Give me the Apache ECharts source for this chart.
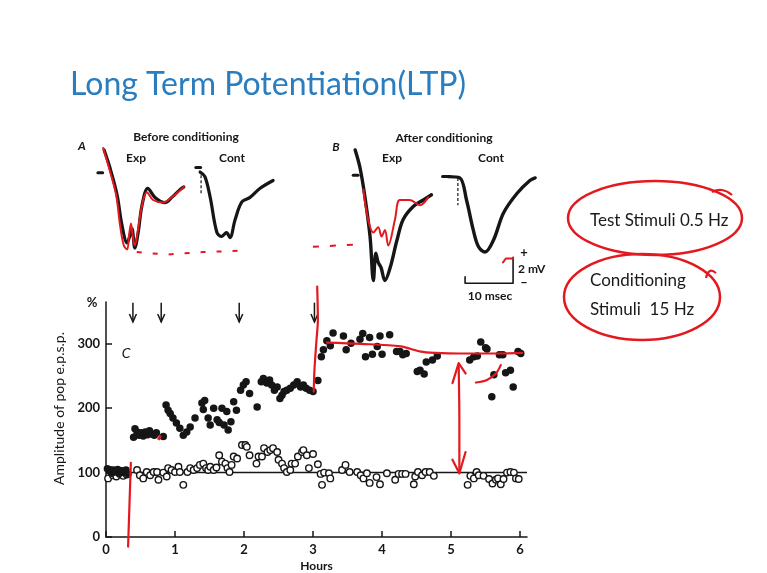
<!DOCTYPE html>
<html><head><meta charset="utf-8">
<script src="https://cdn.jsdelivr.net/npm/echarts/dist/echarts.min.js"></script>
<style>html,body{margin:0;padding:0;background:#fff}#c{width:767px;height:573px}</style>
</head><body><div id="c"></div>
<script>
// ---------- data (Hours, % amplitude) ----------
const xTicks = [0, 1, 2, 3, 4, 5, 6];
const yTicks = [0, 100, 200, 300];
const conditioningTimes = [0.39, 0.80, 1.93, 3.02];

const filledExp = [
 [0.02,106],[0.05,103],[0.08,99],[0.11,104],[0.14,101],[0.17,105],[0.20,99],[0.23,103],[0.26,100],[0.29,104],[0.32,98],
 [0.40,155],[0.42,168],[0.45,163],[0.48,158],[0.51,162],[0.54,157],[0.57,163],[0.60,159],[0.63,165],[0.66,160],[0.70,158],[0.73,162],[0.83,156],
 [0.87,205],[0.90,197],[0.93,192],[0.97,185],[1.02,177],[1.07,169],[1.12,158],[1.17,163],[1.22,171],[1.29,185],[1.39,208],[1.43,212],
 [1.41,198],[1.48,185],[1.51,174],[1.56,200],[1.61,182],[1.64,178],[1.68,200],[1.71,174],[1.75,195],[1.77,166],[1.81,179],[1.85,210],[1.89,197],
 [1.95,228],[1.99,236],[2.03,241],[2.08,223],[2.19,202],[2.25,241],[2.28,246],[2.33,239],[2.37,244],[2.40,236],[2.44,228],[2.48,233],
 [2.52,215],[2.55,220],[2.58,226],[2.62,228],[2.67,231],[2.72,236],[2.77,241],[2.82,233],[2.86,236],[2.90,231],[2.95,228],[3.00,226],
 [3.07,243],[3.12,280],[3.15,291],[3.20,305],[3.25,297],[3.29,317],[3.44,312],[3.48,291],[3.55,301],[3.68,307],[3.72,316],[3.76,280],
 [3.82,310],[3.86,284],[3.93,296],[3.97,312],[4.00,284],[4.11,314],[4.21,288],[4.26,288],[4.30,283],[4.35,285],
 [4.51,257],[4.55,259],[4.61,253],[4.64,272],[4.73,275],[4.80,281],
 [5.27,275],[5.33,280],[5.38,281],[5.43,303],[5.50,294],[5.52,292],[5.59,218],[5.62,252],[5.70,283],[5.75,283],[5.79,255],[5.86,259],[5.90,233],[5.97,288],[6.01,285]
];
const openControl = [
 [0.03,91],[0.06,104],[0.10,96],[0.15,94],[0.20,98],[0.25,95],[0.30,97],
 [0.45,104],[0.49,96],[0.54,91],[0.59,101],[0.64,96],[0.69,101],[0.74,101],[0.76,89],[0.83,100],[0.88,94],[0.90,107],[0.95,104],[1.00,101],
 [1.05,109],[1.07,101],[1.12,81],[1.18,101],[1.22,107],[1.27,104],[1.32,107],[1.36,112],[1.41,114],[1.45,107],[1.48,104],[1.51,109],[1.56,104],
 [1.60,108],[1.64,127],[1.68,117],[1.73,114],[1.76,107],[1.79,101],[1.82,112],[1.85,125],[1.90,122],[1.97,143],[2.02,143],[2.04,140],[2.08,127],
 [2.18,114],[2.21,125],[2.26,125],[2.29,138],[2.34,132],[2.38,135],[2.42,138],[2.48,132],[2.50,120],[2.55,114],[2.58,107],[2.62,101],[2.67,104],
 [2.69,114],[2.74,114],[2.78,125],[2.84,132],[2.86,135],[2.91,127],[2.94,107],[3.00,129],[3.07,113],[3.11,98],[3.13,81],[3.16,100],[3.23,99],
 [3.25,91],[3.42,104],[3.47,112],[3.53,101],[3.64,101],[3.69,96],[3.73,91],[3.78,99],[3.82,84],[3.92,93],[3.97,82],[4.07,99],[4.19,89],
 [4.24,98],[4.29,98],[4.34,98],[4.46,82],[4.48,94],[4.52,101],[4.58,96],[4.63,101],[4.69,101],[4.75,95],
 [5.24,81],[5.28,95],[5.33,91],[5.37,101],[5.40,96],[5.47,95],[5.55,90],[5.60,83],[5.65,89],[5.68,91],[5.72,82],[5.76,90],[5.81,100],
 [5.86,101],[5.91,100],[5.94,91],[5.98,90]
];
const baseline100 = [[0,100],[6.1,100]];

// red hand annotations (Hours, %)
const redStartLine = [[0.36,115],[0.34,50],[0.32,-15]];
const redStepLine = [[3.06,389],[3.07,337],[3.05,306],[3.02,259],[3.01,226]];
const redPlateau = [[3.20,302],[3.69,300],[4.27,296],[4.56,288],[4.78,286],[5.11,285],[5.69,285],[6.03,286]];
const redDoubleShaft = [[5.11,266],[5.12,180],[5.12,99]];
const redHeadTop = [[5.02,239],[5.11,270],[5.21,254]];
const redHeadBottom = [[5.02,120],[5.12,99],[5.21,132]];
const redHook = [[5.36,240],[5.52,244],[5.65,254],[5.72,267]];
const redTick = [[0.76,151],[0.79,158]];

// ---------- traces (msec, mV) ----------
const traceAExp = [[1.9,-1.15],[3.1,-2.5],[4.6,-4.6],[5.6,-6.9],[6.7,-8.3],[7.3,-7.7],[7.7,-7.2],[8.3,-8.7],[9.0,-7.5],[9.8,-5.4],[11.0,-4.1],[12.5,-4.8],[14.6,-5.2],[16.0,-4.8],[17.7,-4.2],[18.5,-4.0]];
const traceAExpRed = [[1.7,-1.0],[2.9,-2.5],[4.4,-4.6],[5.2,-6.9],[6.0,-8.5],[6.7,-8.8],[7.1,-7.7],[7.5,-6.8],[7.9,-7.9],[8.3,-8.5],[9.0,-7.2],[9.8,-5.4],[10.8,-4.4],[12.1,-5.0],[14.2,-5.2],[15.6,-4.9],[17.3,-4.4],[18.5,-4.0]];
const traceACont = [[21.9,-2.85],[22.9,-3.2],[24.0,-4.8],[25.4,-7.5],[26.4,-7.8],[27.4,-7.5],[28.1,-7.9],[29.2,-6.5],[30.6,-5.15],[32.3,-4.8],[34.4,-4.1],[37.1,-3.5]];
const traceBExp = [[54.2,-1.15],[55.2,-2.5],[56.25,-4.8],[57.3,-7.8],[58.0,-11.2],[58.5,-9.1],[59.0,-9.8],[59.6,-10.2],[60.4,-11.2],[61.5,-10.2],[62.9,-8.1],[64.2,-6.5],[66.3,-5.5],[68.4,-5.0],[70.1,-4.6]];
const traceBExpRed = [[55.9,-4.2],[56.9,-6.5],[58.0,-7.5],[59.0,-7.1],[59.7,-7.8],[60.4,-7.3],[61.1,-8.5],[62.5,-6.5],[63.5,-5.0],[65.6,-5.0],[67.7,-5.4],[69.4,-4.8]];
const traceBCont = [[73.5,-3.2],[76.0,-3.3],[77.4,-5.0],[78.8,-7.3],[79.9,-8.6],[81.25,-9.0],[83.0,-8.1],[85.1,-6.0],[87.9,-4.5],[90.6,-3.5],[91.7,-3.3]];
const redDashA = [[8.7,-9.0],[14.9,-9.2],[22.5,-9.0],[30.8,-8.9]];
const redDashB = [[45.4,-8.6],[55.8,-8.4]];
const stimA = [[0.6,-2.9],[1.6,-2.9]];
const stimACont = [[21.0,-2.5],[22.0,-2.5]];
const stimB = [[53.8,-3.1],[54.8,-3.1]];
const stimBCont = [[72.4,-3.2],[74.0,-3.2]];
const artifactACont = [[22.1,-3.1],[22.1,-4.5]];
const artifactBCont = [[75.6,-3.3],[75.6,-5.4]];
const scaleBar = [[77.1,-10.9],[77.1,-11.4],[87.1,-11.4],[87.1,-9.4]];
const redScaleHook = [[85.0,-9.8],[85.6,-9.5],[87.1,-9.5]];

// ---------- chart ----------
const RED = '#e3191f', INK = '#161616';
const FONT = 'Lato, "Open Sans", sans-serif';
const chart = echarts.init(document.getElementById('c'));

function redLine(data, extra) {
  return Object.assign({type:'line', xAxisIndex:0, yAxisIndex:0, data, symbol:'none', smooth:0.3, clip:false, silent:true, z:6,
    lineStyle:{color:RED, width:2.2, cap:'round', join:'round'}}, extra || {});
}
function trace(data, color, width, extra) {
  return Object.assign({type:'line', xAxisIndex:1, yAxisIndex:1, data, symbol:'none', smooth:0.35, clip:false, silent:true, z:4,
    lineStyle:{color, width, cap:'round', join:'round'}}, extra || {});
}
function txt(x, y, text, size, opts) {
  return {type:'text', x, y, silent:true, z:10, style:Object.assign({text, fill:INK, font:`bold ${size}px ${FONT}`, align:'center', verticalAlign:'middle'}, opts || {})};
}

const option = {
  animation:false,
  backgroundColor:'#ffffff',
  grid:[{left:106, top:302, width:421, height:235}, {left:95, top:135, width:480, height:169, show:false}],
  xAxis:[
    {gridIndex:0, type:'value', min:0, max:6.1, interval:1,
     axisLine:{lineStyle:{color:INK, width:1.5}},
     axisTick:{inside:true, length:6, customValues:xTicks, lineStyle:{color:INK, width:1.5}},
     axisLabel:{customValues:xTicks, color:INK, fontFamily:FONT, fontWeight:'bold', fontSize:13, margin:6},
     splitLine:{show:false},
     name:'Hours', nameLocation:'middle', nameGap:23,
     nameTextStyle:{color:INK, fontFamily:FONT, fontWeight:'bold', fontSize:12}},
    {gridIndex:1, type:'value', min:0, max:100, show:false}
  ],
  yAxis:[
    {gridIndex:0, type:'value', min:0, max:365, interval:100,
     axisLine:{show:true, lineStyle:{color:INK, width:1.5}},
     axisTick:{show:true, inside:true, length:6, customValues:yTicks, lineStyle:{color:INK, width:1.5}},
     axisLabel:{customValues:yTicks, color:INK, fontFamily:FONT, fontWeight:'bold', fontSize:13, margin:6},
     splitLine:{show:false},
     name:'Amplitude of pop e.p.s.p.', nameLocation:'middle', nameGap:36, nameRotate:90,
     nameTextStyle:{color:INK, fontFamily:FONT, fontWeight:'normal', fontSize:14, padding:[0,0,0,22]}},
    {gridIndex:1, type:'value', min:-13, max:0, show:false}
  ],
  series:[
    {type:'line', xAxisIndex:0, yAxisIndex:0, data:baseline100, symbol:'none', silent:true, z:2,
     lineStyle:{color:INK, width:1.5}},
    {type:'scatter', xAxisIndex:0, yAxisIndex:0, data:openControl, symbol:'circle', symbolSize:6.5, silent:true, z:3,
     itemStyle:{color:'#ffffff', borderColor:INK, borderWidth:1.4, opacity:1}},
    {type:'scatter', xAxisIndex:0, yAxisIndex:0, data:filledExp, symbol:'circle', symbolSize:7.5, silent:true, z:3,
     itemStyle:{color:INK, opacity:1}},
    {type:'custom', xAxisIndex:0, yAxisIndex:0, data:conditioningTimes.map(t => [t]), clip:false, silent:true, z:4,
     renderItem:(params, api) => {
       const t = api.value(0);
       const a = api.coord([t, 364]);
       const b = api.coord([t, 334]);
       return {type:'group', children:[
         {type:'line', shape:{x1:a[0], y1:a[1], x2:b[0], y2:b[1]}, style:{stroke:INK, lineWidth:1.5}},
         {type:'polyline', shape:{points:[[b[0]-3.5, b[1]-8], [b[0], b[1]], [b[0]+3.5, b[1]-8]]}, style:{stroke:INK, lineWidth:1.5, fill:null}}
       ]};
     }},
    redLine(redStartLine),
    redLine(redStepLine),
    redLine(redPlateau),
    redLine(redDoubleShaft),
    redLine(redHeadTop, {smooth:false}),
    redLine(redHeadBottom, {smooth:false}),
    redLine(redHook),
    redLine(redTick, {smooth:false, lineStyle:{color:RED, width:3}}),
    // traces
    trace(traceAExp, INK, 3.2),
    trace(traceAExpRed, RED, 2),
    trace(traceACont, INK, 3.2),
    trace(traceBExp, INK, 3.4),
    trace(traceBExpRed, RED, 2),
    trace(traceBCont, INK, 3.4),
    trace(redDashA, RED, 2, {smooth:false, lineStyle:{color:RED, width:2, type:[5,11]}}),
    trace(redDashB, RED, 2, {smooth:false, lineStyle:{color:RED, width:2, type:[6,11]}}),
    trace(stimA, INK, 3, {smooth:false}),
    trace(stimACont, INK, 3, {smooth:false}),
    trace(stimB, INK, 3, {smooth:false}),
    trace(stimBCont, INK, 3, {smooth:false}),
    trace(artifactACont, INK, 1.2, {smooth:false, lineStyle:{color:INK, width:1.2, type:[3,2]}}),
    trace(artifactBCont, INK, 1.2, {smooth:false, lineStyle:{color:INK, width:1.2, type:[3,2]}}),
    trace(scaleBar, INK, 1.6, {smooth:false}),
    trace(redScaleHook, RED, 2, {smooth:false})
  ],
  graphic:[
    {type:'text', x:70, y:85, silent:true, style:{text:'Long Term Potentiation(LTP)', fill:'#2a7dbf', font:`32px ${FONT}`, align:'left', verticalAlign:'middle'}},
    txt(82, 146, 'A', 12, {font:`italic bold 12px ${FONT}`}),
    txt(186, 137, 'Before conditioning', 12),
    txt(136, 158, 'Exp', 12),
    txt(232, 158, 'Cont', 12),
    txt(336, 147, 'B', 12, {font:`italic bold 12px ${FONT}`}),
    txt(444, 138, 'After conditioning', 12),
    txt(392, 158, 'Exp', 12),
    txt(491, 158, 'Cont', 12),
    txt(524, 253, '+', 13),
    txt(518, 269, '2 mV', 12, {align:'left'}),
    txt(524, 283, '\u2013', 13),
    txt(490, 296, '10 msec', 12),
    txt(92, 303, '%', 13),
    txt(126, 353, 'C', 13, {font:`italic 14px ${FONT}`}),
    {type:'ellipse', silent:true, shape:{cx:655, cy:218, rx:87, ry:37}, style:{stroke:RED, lineWidth:2.5, fill:null}},
    {type:'polyline', silent:true, shape:{points:[[712,192],[722,190],[732,195]], smooth:0.5}, style:{stroke:RED, lineWidth:2.2, fill:null}},
    {type:'ellipse', silent:true, shape:{cx:642, cy:297, rx:78, ry:43}, style:{stroke:RED, lineWidth:2.5, fill:null}},
    {type:'polyline', silent:true, shape:{points:[[706,278],[710,271],[716,273]], smooth:0.5}, style:{stroke:RED, lineWidth:2.2, fill:null}},
    {type:'text', x:590, y:221, silent:true, style:{text:'Test Stimuli 0.5 Hz', fill:'#1a1a1a', font:`17px ${FONT}`, align:'left', verticalAlign:'middle'}},
    {type:'text', x:590, y:281, silent:true, style:{text:'Conditioning', fill:'#1a1a1a', font:`17px ${FONT}`, align:'left', verticalAlign:'middle'}},
    {type:'text', x:590, y:310, silent:true, style:{text:'Stimuli  15 Hz', fill:'#1a1a1a', font:`17px ${FONT}`, align:'left', verticalAlign:'middle'}}
  ]
};
chart.setOption(option);
</script></body></html>
